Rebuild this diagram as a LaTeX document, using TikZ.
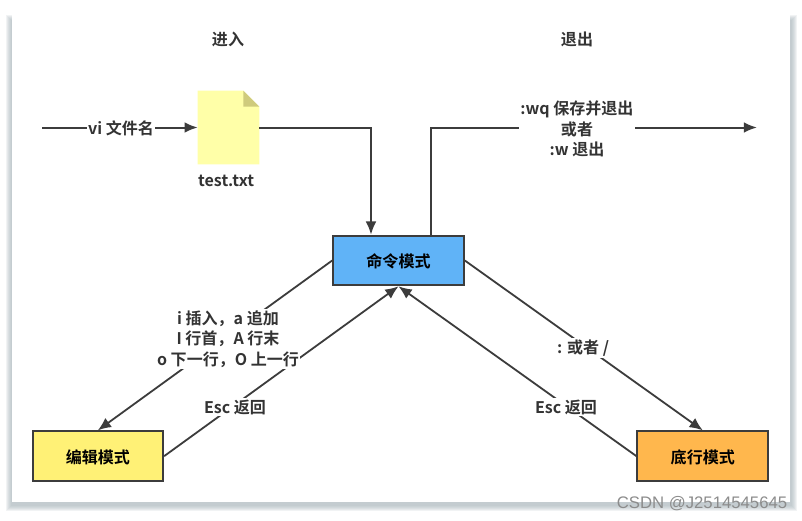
\documentclass[tikz,border=0pt]{standalone}
\usepackage{fontspec}
\setmainfont{Noto Sans CJK SC}[BoldFont=* Bold]
\newfontfamily\markfont{Liberation Sans}
\usepackage{xcolor}
\usetikzlibrary{arrows.meta,positioning,calc}
\definecolor{linegray}{HTML}{3C3C3C}
\definecolor{textgray}{HTML}{333333}
\definecolor{shadowgray}{HTML}{9FADB3}
\definecolor{cmdblue}{HTML}{60B3F7}
\definecolor{edityellow}{HTML}{FFF176}
\definecolor{lastorange}{HTML}{FFB74D}
\definecolor{filefill}{HTML}{FFFFA8}
\definecolor{filefold}{HTML}{CFCB7C}
\tikzset{
  modebox/.style={draw=linegray,line width=0.05cm,minimum width=3.265cm,text height=1em,text depth=0pt,
    minimum height=1.24cm,inner sep=0pt,text=black,font=\fontsize{11.4pt}{14.2pt}\selectfont\bfseries},
  filebox/.style={minimum width=1.525cm,minimum height=1.825cm,inner sep=0pt},
  flowlabel/.style={fill=white,align=center,inner sep=1pt,text=textgray,
    font=\fontsize{11.4pt}{14.4pt}\selectfont\bfseries},
  plainlabel/.style={align=center,inner sep=0pt,text=textgray,
    font=\fontsize{11.4pt}{14.4pt}\selectfont\bfseries},
  modearrow/.style={-{Latex[length=3.3mm,width=2.8mm]},draw=linegray,line width=0.045cm},
  filearrow/.style={-{Latex[length=3.3mm,width=2.7mm]},draw=linegray,line width=0.05cm}
}
\begin{document}
\begin{tikzpicture}[x=0.025cm,y=-0.025cm]
  \useasboundingbox (0,0) rectangle (802,520);
  % card with its shadow
  \foreach \s in {0,...,5}
    \fill[shadowgray,opacity=0.15] (6+\s,15+\s) rectangle (797-\s,511-\s);
  \fill[white] (12,12) rectangle (790,502);
  % modes
  \node[modebox,fill=cmdblue] (cmdmode) at (398.5,260.5) {命令模式};
  \node[modebox,fill=edityellow,below left=3.6cm and 4.2cm of cmdmode] (editmode) {编辑模式};
  \node[modebox,fill=lastorange,below right=3.6cm and 4.29cm of cmdmode] (lastmode) {底行模式};
  % file
  \node[filebox] (file) at (228.5,127.5) {};
  \fill[filefill] (file.north west) -- ($(file.north east)+(-16,0)$) -- ($(file.north east)+(0,16)$)
    -- (file.south east) -- (file.south west) -- cycle;
  \fill[filefold] ($(file.north east)+(-16,0)$) -- ($(file.north east)+(0,16)$) -- ($(file.north east)+(-16,16)$) -- cycle;
  \node[plainlabel,below=0.27cm of file.south,xshift=-0.06cm] (filename) {test.txt};
  \coordinate (entry) at (42,127.5);
  \coordinate (exit) at (757,127.5);
  \coordinate (cmdin) at ($(cmdmode.north)+(-27.5,0)$);
  \coordinate (cmdout) at ($(cmdmode.north)+(32.5,0)$);
  % connectors
  \draw[filearrow] (entry)--(file.west);
  \draw[filearrow] (file.east)-|(cmdin);
  \draw[filearrow] (cmdout)|-(exit);
  \draw[modearrow] (cmdmode.west)--(editmode.north);
  \draw[modearrow] (editmode.east)--(cmdmode.south);
  \draw[modearrow] (cmdmode.east)--(lastmode.north);
  \draw[modearrow] (lastmode.west)--(cmdmode.south);
  % labels
  \node[plainlabel] (enter) at (228,39.5) {进入};
  \node[plainlabel] (quit) at (577,39.5) {退出};
  \node[flowlabel] (vilabel) at (121,128) {vi 文件名};
  \node[flowlabel] (quitlabel) at (577,129) {:wq 保存并退出\\或者\\:w 退出};
  \node[flowlabel] (insertlabel) at (228,339) {i 插入，a 追加\\I 行首，A 行末\\o 下一行，O 上一行};
  \node[flowlabel] (editback) at (235,407) {Esc 返回};
  \node[flowlabel] (lastlabel) at (583,348) {: 或者 /};
  \node[flowlabel] (lastback) at (566,407) {Esc 返回};
  \node[font=\markfont\fontsize{11.9pt}{13pt}\selectfont,text=black!45,inner sep=0pt] (mark) at (702,503.5) {CSDN @J2514545645};
\end{tikzpicture}
\end{document}
